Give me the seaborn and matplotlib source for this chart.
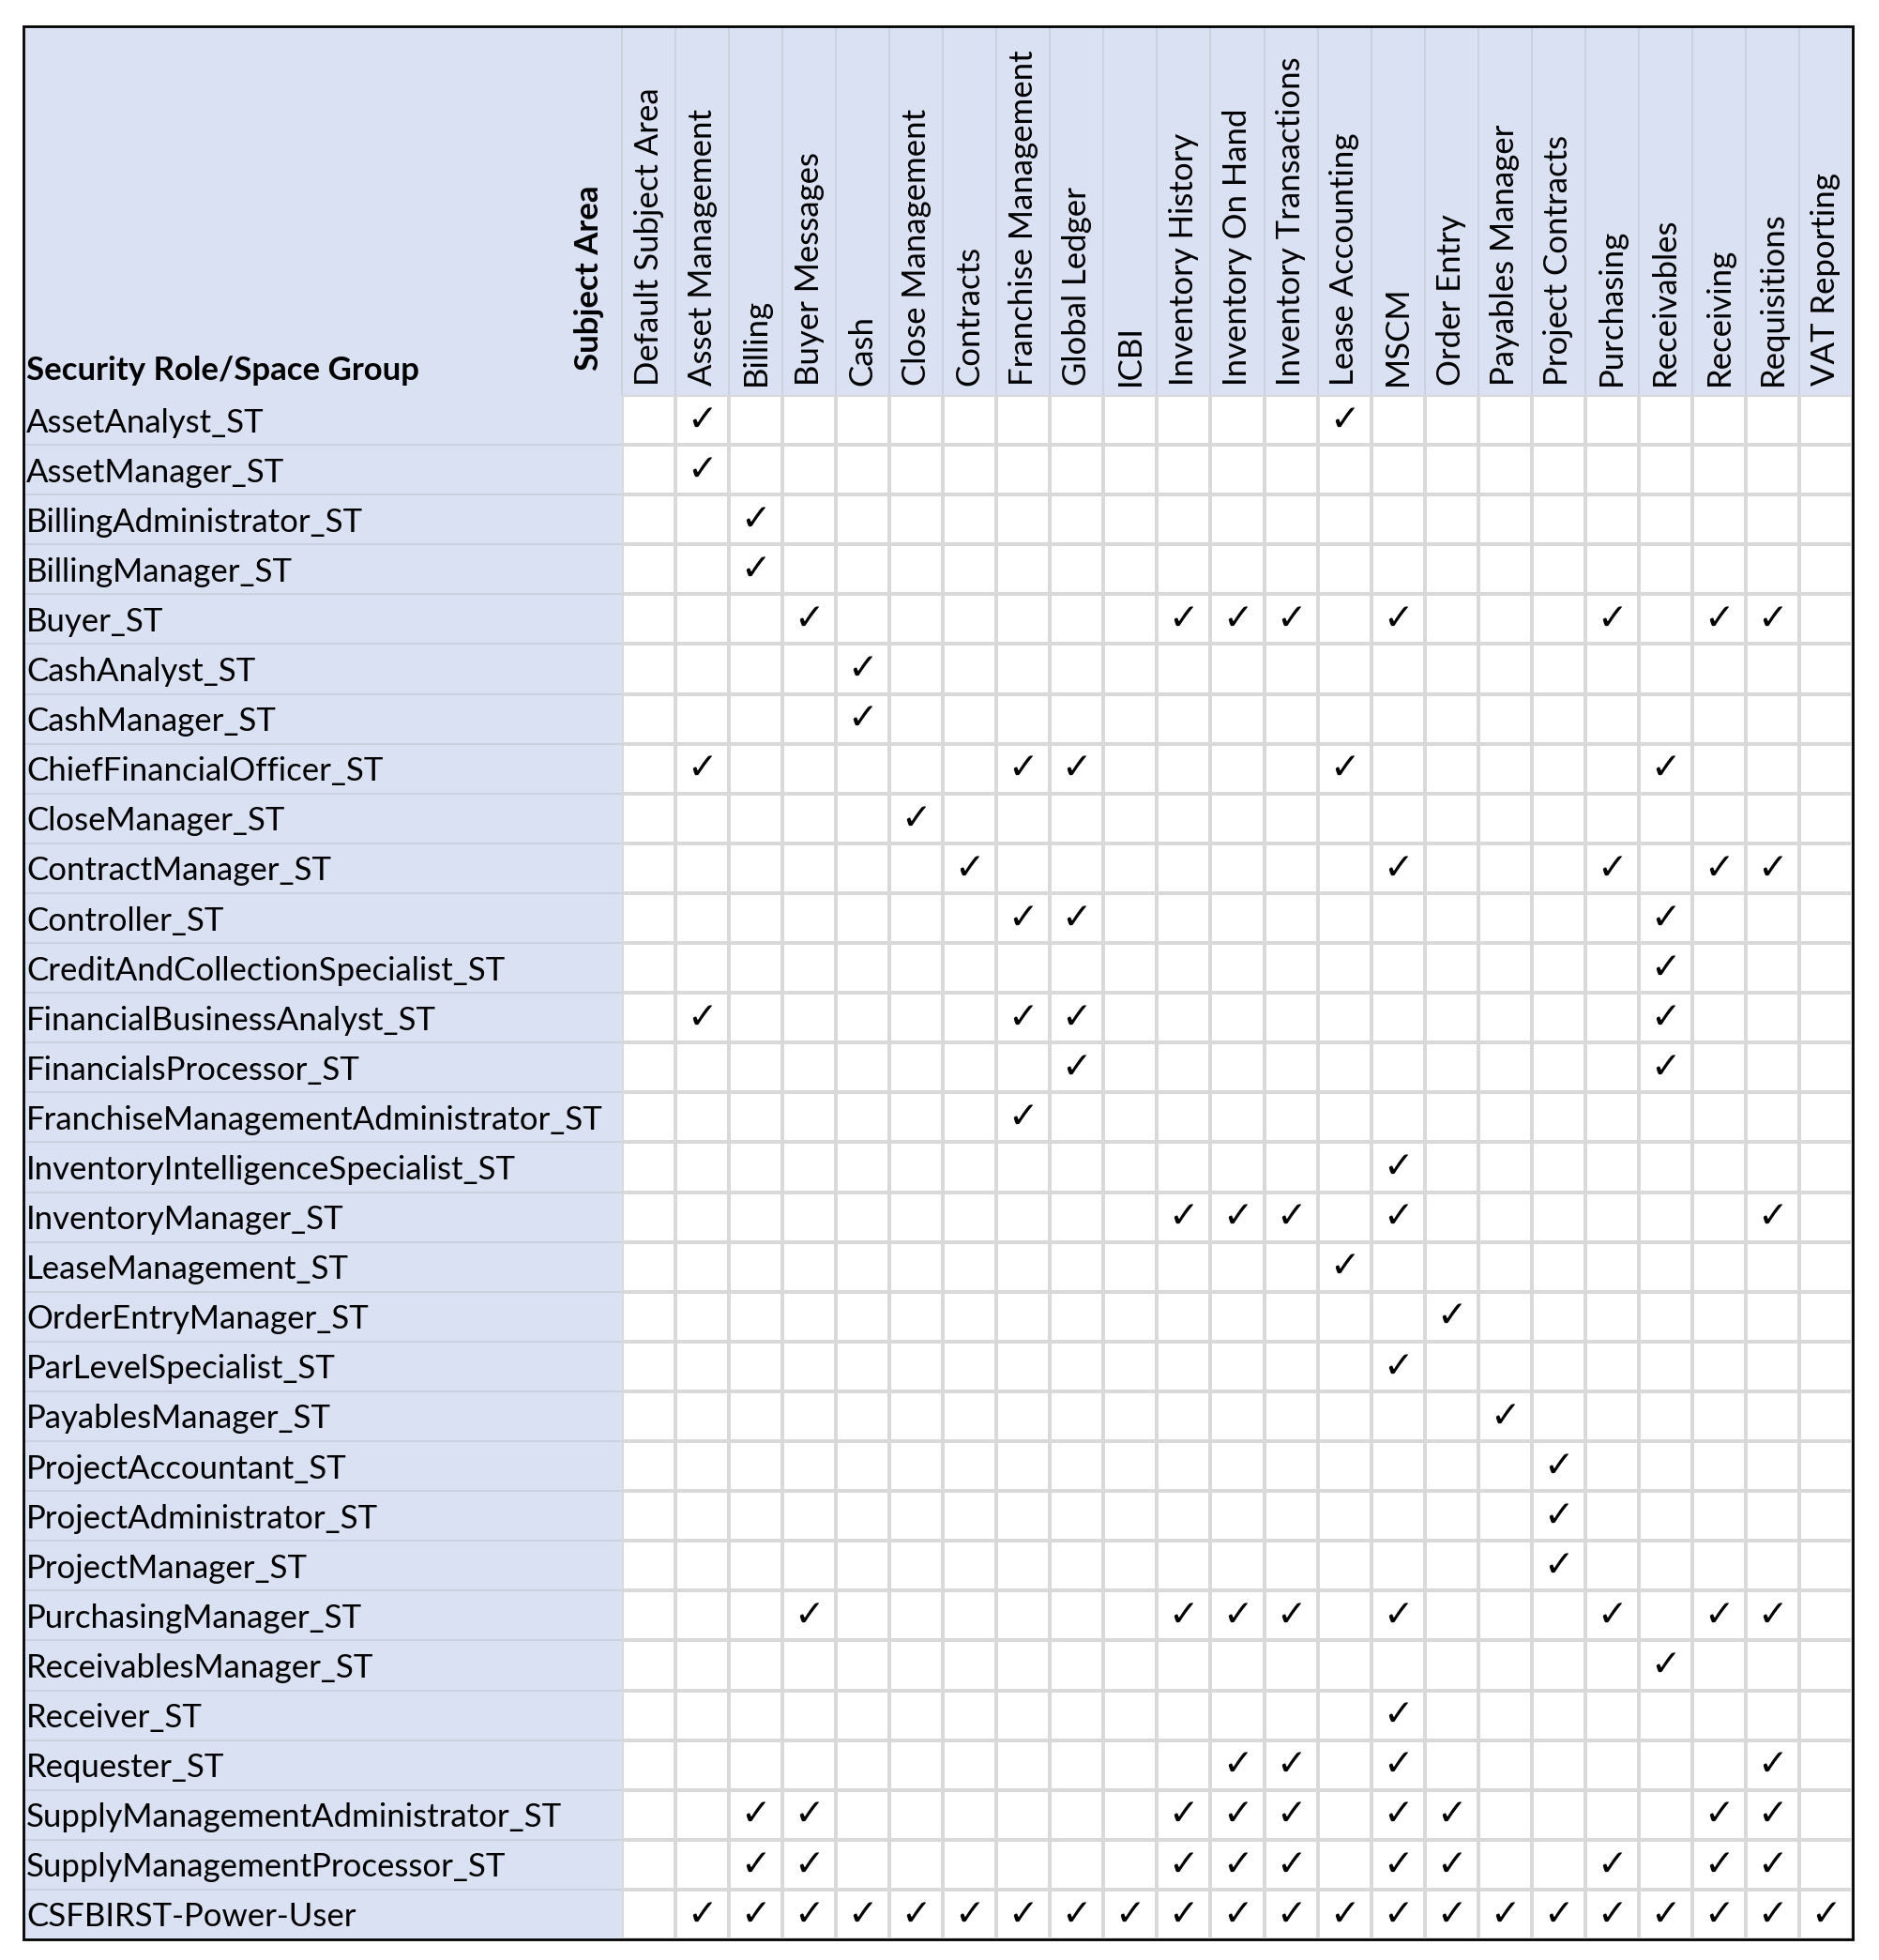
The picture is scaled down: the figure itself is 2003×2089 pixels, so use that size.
import numpy as np
import pandas as pd
import matplotlib
matplotlib.use("Agg")
import matplotlib.pyplot as plt
from matplotlib.colors import ListedColormap
from matplotlib.patches import Rectangle
import seaborn as sns

subject_areas = [
    "Default Subject Area", "Asset Management", "Billing", "Buyer Messages", "Cash",
    "Close Management", "Contracts", "Franchise Management", "Global Ledger", "ICBI",
    "Inventory History", "Inventory On Hand", "Inventory Transactions", "Lease Accounting",
    "MSCM", "Order Entry", "Payables Manager", "Project Contracts", "Purchasing",
    "Receivables", "Receiving", "Requisitions", "VAT Reporting",
]

roles = [
    "AssetAnalyst_ST", "AssetManager_ST", "BillingAdministrator_ST", "BillingManager_ST",
    "Buyer_ST", "CashAnalyst_ST", "CashManager_ST", "ChiefFinancialOfficer_ST",
    "CloseManager_ST", "ContractManager_ST", "Controller_ST",
    "CreditAndCollectionSpecialist_ST", "FinancialBusinessAnalyst_ST",
    "FinancialsProcessor_ST", "FranchiseManagementAdministrator_ST",
    "InventoryIntelligenceSpecialist_ST", "InventoryManager_ST", "LeaseManagement_ST",
    "OrderEntryManager_ST", "ParLevelSpecialist_ST", "PayablesManager_ST",
    "ProjectAccountant_ST", "ProjectAdministrator_ST", "ProjectManager_ST",
    "PurchasingManager_ST", "ReceivablesManager_ST", "Receiver_ST", "Requester_ST",
    "SupplyManagementAdministrator_ST", "SupplyManagementProcessor_ST",
    "CSFBIRST-Power-User",
]

# checked subject-area column indices for each role (same order as roles)
role_access = [
    [1, 13],
    [1],
    [2],
    [2],
    [3, 10, 11, 12, 14, 18, 20, 21],
    [4],
    [4],
    [1, 7, 8, 13, 19],
    [5],
    [6, 14, 18, 20, 21],
    [7, 8, 19],
    [19],
    [1, 7, 8, 19],
    [8, 19],
    [7],
    [14],
    [10, 11, 12, 14, 21],
    [13],
    [15],
    [14],
    [16],
    [17],
    [17],
    [17],
    [3, 10, 11, 12, 14, 18, 20, 21],
    [19],
    [14],
    [11, 12, 14, 21],
    [2, 3, 10, 11, 12, 14, 15, 20, 21],
    [2, 3, 10, 11, 12, 14, 15, 18, 20, 21],
    [1, 2, 3, 4, 5, 6, 7, 8, 9, 10, 11, 12, 13, 14, 15, 16, 17, 18, 19, 20, 21, 22],
]

W, H = 2003, 2089
plt.rcParams['font.family'] = ['Lato', 'DejaVu Sans']
fig = plt.figure(figsize=(W / 100, H / 100), dpi=100)

tbl_left, tbl_top, tbl_right, tbl_bottom = 25, 28, 1975, 2067
cell_left, cell_top = 663, 421
ncol, nrow = len(subject_areas), len(roles)
px_col = (tbl_right - cell_left) / ncol
px_row = (tbl_bottom - cell_top) / nrow
label_w = (cell_left - tbl_left) / px_col
header_h = (cell_top - tbl_top) / px_row

ax = fig.add_axes([cell_left / W, 1 - tbl_bottom / H,
                   (tbl_right - cell_left) / W, (tbl_bottom - cell_top) / H])

matrix = pd.DataFrame(
    [[1 if j in acc else 0 for j in range(ncol)] for acc in role_access],
    index=roles, columns=subject_areas)
annot = np.where(matrix.values == 1, "\u2713", "")

sns.heatmap(matrix, ax=ax, cmap=ListedColormap(["white"]), vmin=0, vmax=1,
            cbar=False, linewidths=1.5, linecolor="#D9D9D9",
            annot=annot, fmt="",
            annot_kws=dict(fontsize=28, family="DejaVu Sans", fontweight="bold",
                           color="black"),
            xticklabels=subject_areas, yticklabels=roles)
ax.set_xlabel("")
ax.set_ylabel("")

head_col = "#D9E1F2"
ax.add_patch(Rectangle((-label_w, -header_h), ncol + label_w, header_h,
                       facecolor=head_col, edgecolor="none", clip_on=False, zorder=0))
ax.add_patch(Rectangle((-label_w, 0), label_w, nrow,
                       facecolor=head_col, edgecolor="none", clip_on=False, zorder=0))
ax.vlines(np.arange(0, ncol + 1), -header_h, 0, colors="#C9D0DC", lw=1.2,
          clip_on=False, zorder=0.5)
ax.hlines(np.arange(1, nrow), -label_w, 0, colors="#C9D0DC", lw=1.2,
          clip_on=False, zorder=0.5)
ax.add_patch(Rectangle((-label_w, -header_h), ncol + label_w, nrow + header_h,
                       fill=False, edgecolor="black", lw=2, clip_on=False, zorder=5))

ax.xaxis.tick_top()
ax.tick_params(axis="x", length=0, pad=7, labelsize=25, labelrotation=90)
for t in ax.get_xticklabels():
    t.set_va("bottom")
    t.set_ha("center")
ax.tick_params(axis="y", length=0, pad=(cell_left - 28) * 0.72, labelsize=25, labelrotation=0)
for t in ax.get_yticklabels():
    t.set_ha("left")
    t.set_va("center_baseline")

fig.text(28 / W, 1 - 405 / H, "Security Role/Space Group", fontsize=25,
         fontweight="bold", ha="left", va="baseline")
fig.text(628 / W, 1 - 395 / H, "Subject Area", fontsize=25, fontweight="bold",
         rotation=90, ha="center", va="bottom")

fig.savefig("out.png", dpi=100, facecolor="white")
